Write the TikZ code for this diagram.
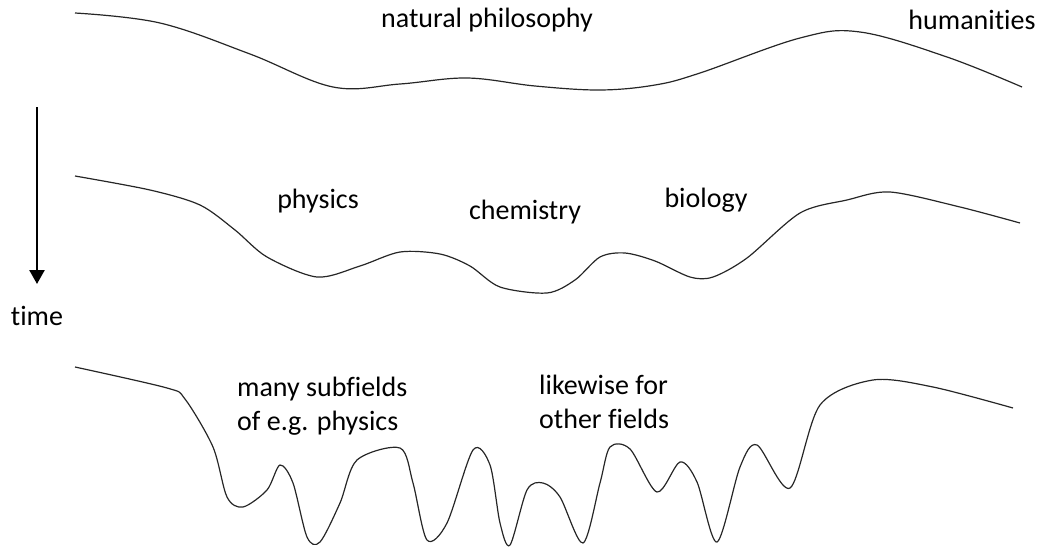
\documentclass[tikz,border=0pt]{standalone}
\usepackage{fontspec}
\setmainfont{Carlito}[RawFeature={-liga}]
\usetikzlibrary{arrows.meta}
\begin{document}
\begin{tikzpicture}[x=1pt,y=-1pt,
  lbl/.style={font=\fontsize{28}{34.5}\selectfont, inner sep=0pt},
  wave/.style={line width=1.2pt, black!85},
  timearrow/.style={line width=2.5pt, -{Triangle[length=14pt,width=15pt]}}]
\useasboundingbox (0,0) rectangle (1041,546);
% texts
\node[lbl] (natphil) at (487,20) {natural philosophy};
\node[lbl] (hum) at (972,20) {humanities};
\node[lbl] (phys) at (318,201) {physics};
\node[lbl] (chem) at (525,212) {chemistry};
\node[lbl] (bio) at (706,200) {biology};
\node[lbl, anchor=west, align=left] (sub) at (237,406) {many subfields\\of e.g. physics};
\node[lbl, anchor=west, align=left] (like) at (539,402) {likewise for\\other fields};
\node[lbl] (time) at (37,316) {time};
% arrow
\coordinate (arrtop) at (37,107);
\coordinate (arrtip) at (37,284);
\draw[timearrow] (arrtop) -- (arrtip);
% top curve
\draw[wave] plot[smooth, tension=0.6] coordinates {
 (75,13) (160,23) (250,54) (333,87) (400,84) (467,78) (535,86) (600,90) (655,85) (700,73) (800,38) (860,32) (947,57) (1022,87)};
% middle curve
\draw[wave] plot[smooth, tension=0.5] coordinates {
 (75,176) (150,190) (200,205) (235,230) (267,257) (317,277) (360,266) (400,252) (440,254) (470,266) (500,287) (547,293) (575,280) (600,257) (625,253) (655,261) (690,277) (713,277) (747,258) (800,213) (847,200) (890,192) (960,207) (1020,223)};
% bottom curve
\draw[wave] plot[smooth, tension=0.5] coordinates {
 (75,367) (167,388) (185,399) (213,447) (227,497) (243,507) (267,490) (280,465) (293,483) (307,537) (320,542) (340,503) (357,460) (400,448) (413,483) (427,540) (447,523) (473,450) (490,465) (500,523) (510,545) (527,490) (543,483) (560,497) (583,543) (600,483) (610,447) (630,449) (657,492) (680,462) (697,482) (717,542) (740,467) (757,445) (790,488) (820,405) (873,380) (933,387) (1013,408)};
\end{tikzpicture}
\end{document}
